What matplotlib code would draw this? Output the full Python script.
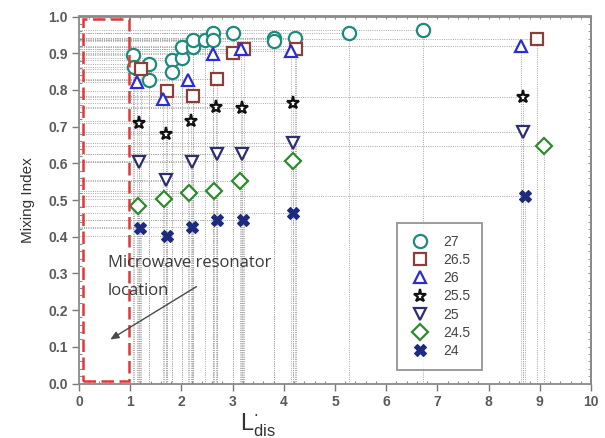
import matplotlib
matplotlib.use("Agg")
import matplotlib.pyplot as plt
from matplotlib.patches import Rectangle
from matplotlib.ticker import AutoMinorLocator

# ---------------- data ----------------
labels = ["27", "26.5", "26", "25.5", "25", "24.5", "24"]

x27 = [1.05, 1.07, 1.36, 1.36, 1.81, 1.81, 2.01, 2.01, 2.22, 2.22, 2.47, 2.61, 2.61, 3.00, 3.80, 3.80, 4.21, 5.28, 6.71]
y27 = [0.895, 0.862, 0.871, 0.827, 0.881, 0.849, 0.887, 0.917, 0.917, 0.936, 0.936, 0.955, 0.936, 0.955, 0.941, 0.934, 0.941, 0.955, 0.963]

x265 = [1.21, 1.71, 2.22, 2.69, 3.00, 3.22, 4.23, 8.95]
y265 = [0.857, 0.797, 0.784, 0.829, 0.900, 0.911, 0.911, 0.940]

x26 = [1.13, 1.64, 2.12, 2.61, 3.16, 4.15, 8.63]
y26 = [0.822, 0.775, 0.827, 0.898, 0.911, 0.907, 0.920]

x255 = [1.17, 1.70, 2.18, 2.67, 3.18, 4.17, 8.67]
y255 = [0.710, 0.680, 0.716, 0.753, 0.750, 0.763, 0.780]

x25 = [1.17, 1.70, 2.20, 2.69, 3.18, 4.17, 8.67]
y25 = [0.603, 0.554, 0.603, 0.625, 0.625, 0.655, 0.685]

x245 = [1.15, 1.66, 2.14, 2.63, 3.14, 4.17, 9.08]
y245 = [0.484, 0.503, 0.519, 0.524, 0.551, 0.606, 0.647]

x24 = [1.19, 1.71, 2.20, 2.69, 3.20, 4.17, 8.71]
y24 = [0.425, 0.403, 0.427, 0.445, 0.445, 0.465, 0.512]

series = [(x27, y27), (x265, y265), (x26, y26), (x255, y255),
          (x25, y25), (x245, y245), (x24, y24)]

xticks = list(range(0, 11))
yticks = [round(0.1 * i, 1) for i in range(11)]

# ---------------- styles ----------------
markers = ["o", "s", "^", "*", "v", "D", "X"]
colors = ["#1e8a7c", "#8a3f3a", "#2c2cd0", "#111111", "#2e2e6e", "#2f8a2f", "#1c2a80"]
msizes = [9.5, 8, 8, 9.5, 8, 8, 9]
filled = [False, False, False, False, False, False, True]

fig = plt.figure(figsize=(6.05, 4.38), dpi=100)
ax = fig.add_axes([79 / 605, 1 - 383.5 / 438, 512 / 605, 367 / 438])

# dotted drop lines to both axes
for (xs, ys) in series:
    ax.hlines(ys, 0, xs, colors="#a8a8a8", linestyles=(0, (1, 1.3)), linewidth=0.7, zorder=1)
    ax.vlines(xs, 0, ys, colors="#a8a8a8", linestyles=(0, (1, 1.3)), linewidth=0.7, zorder=1)

handles = []
for (xs, ys), m, c, ms, f, lab in zip(series, markers, colors, msizes, filled, labels):
    h, = ax.plot(xs, ys, linestyle="none", marker=m, markersize=ms,
                 markerfacecolor=(c if f else "white"), markeredgecolor=c,
                 markeredgewidth=(0.8 if f else 1.6), label=lab, zorder=3)
    handles.append(h)

ax.set_xlim(0, 10)
ax.set_ylim(0, 1.0)
ax.set_xticks(xticks)
ax.set_yticks(yticks)
ax.set_xticklabels([str(t) for t in xticks])
ax.set_yticklabels([f"{t:.1f}" for t in yticks])
ax.xaxis.set_minor_locator(AutoMinorLocator(5))
ax.yaxis.set_minor_locator(AutoMinorLocator(5))

for sp in ax.spines.values():
    sp.set_color("#8a8a8a")
    sp.set_linewidth(1.3)

ax.tick_params(which="major", direction="out", length=5, width=1, color="#7a7a7a",
               labelsize=10, labelcolor="#5a5a5a", pad=3)
ax.tick_params(which="minor", direction="in", length=2.5, width=0.8, color="#8a8a8a")
for lab in ax.get_xticklabels() + ax.get_yticklabels():
    lab.set_fontfamily("Liberation Sans")
    lab.set_fontweight("bold")

# top/right inward ticks
secx = ax.secondary_xaxis("top")
secx.set_xticks(xticks)
secx.xaxis.set_minor_locator(AutoMinorLocator(5))
secx.tick_params(which="both", direction="in", labeltop=False, color="#8a8a8a", length=2.5)
secy = ax.secondary_yaxis("right")
secy.set_yticks(yticks)
secy.yaxis.set_minor_locator(AutoMinorLocator(5))
secy.tick_params(which="both", direction="in", labelright=False, color="#8a8a8a", length=2.5)
for s in (secx, secy):
    for sp in s.spines.values():
        sp.set_color("#8a8a8a")
        sp.set_linewidth(1.3)

ax.set_ylabel("Mixing Index", fontsize=11, color="#333333", family="Liberation Sans")
ax.yaxis.set_label_coords(-0.085, 0.5)
ax.set_xlabel(r"$\mathregular{L^{\bullet}_{dis}}$", fontsize=17, color="#333333",
              family="Liberation Sans", labelpad=2)
ax.xaxis.set_label_coords(0.35, -0.075)

# red dashed resonator box
ax.add_patch(Rectangle((0.08, 0.008), 0.9, 0.984, fill=False, edgecolor="#e0383a",
                       linewidth=1.8, linestyle=(0, (5, 2.2)), zorder=4))

# annotation
ax.text(0.56, 0.317, "Microwave resonator", fontsize=12, family="Open Sans",
        color="#3a3a3a", ha="left", va="baseline", zorder=5)
ax.text(0.56, 0.241, "location", fontsize=12, family="Open Sans",
        color="#3a3a3a", ha="left", va="baseline", zorder=5)
ax.annotate("", xy=(0.565, 0.116), xytext=(2.34, 0.268),
            arrowprops=dict(arrowstyle="-|>,head_length=0.5,head_width=0.22",
                            color="#4a4a4a", linewidth=1.0), zorder=5)

leg = ax.legend(handles=handles, loc="upper left", bbox_to_anchor=(0.621, 0.437),
                fontsize=10, frameon=True, fancybox=False, edgecolor="#7a7a7a",
                labelspacing=0.3, borderpad=0.85, handletextpad=0.9, handlelength=1.6,
                borderaxespad=0)
leg.get_frame().set_linewidth(1.3)
for t in leg.get_texts():
    t.set_color("#444444")
    t.set_fontfamily("Liberation Sans")
leg.set_zorder(6)

fig.savefig("out.png", dpi=100, facecolor="white")
